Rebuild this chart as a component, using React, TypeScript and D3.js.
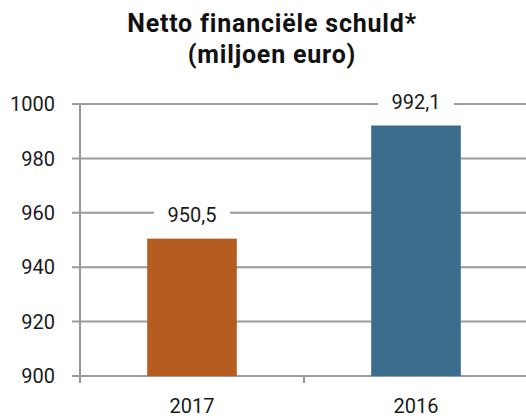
import React from "react";
import * as d3 from "d3";

const categories = ["2017", "2016"];
const values = [950.5, 992.1];
const valueLabels = ["950,5", "992,1"];
const barColors = ["#B55D20", "#3D6D8C"];
const yTicks = [900, 920, 940, 960, 980, 1000];
const titleLines = ["Netto financiële schuld*", "(miljoen euro)"];

const W = 526;
const H = 418;
const left = 80;
const right = 528;
const top = 104;
const bottom = 376;

export default function App() {
  const x = d3.scaleBand().domain(categories).range([left, right]).paddingInner(0.6).paddingOuter(0.3);
  const y = d3.scaleLinear().domain([900, 1000]).range([bottom, top]);
  const font = "Roboto, 'DejaVu Sans', sans-serif";
  const grid = "#9a9a9a";
  const step = (right - left) / categories.length;
  return (
    <svg width={W} height={H} style={{ position: "absolute", left: 0, top: 0 }} fontFamily={font}>
      <rect width={W} height={H} fill="#fff" />
      {titleLines.map((t, i) => (
        <text key={t} x={272} y={32 + i * 31} textAnchor="middle" fontSize={25} fontWeight="bold" fill="#111" letterSpacing={0.8}>
          {t}
        </text>
      ))}
      {yTicks.map((t) => (
        <g key={t}>
          <line x1={left - 8} x2={W} y1={y(t)} y2={y(t)} stroke={grid} strokeWidth={2} />
          <text x={left - 25} y={y(t)} dy="0.36em" textAnchor="end" fontSize={20} fill="#1a1a1a">
            {t}
          </text>
        </g>
      ))}
      <line x1={left} x2={left} y1={top} y2={bottom + 7} stroke={grid} strokeWidth={2} />
      {categories.map((c, i) => (
        <line key={"t" + c} x1={left + step * (i + 1)} x2={left + step * (i + 1)} y1={bottom} y2={bottom + 7} stroke={grid} strokeWidth={2} />
      ))}
      {categories.map((c, i) => {
        const bx = x(c)!;
        const bw = x.bandwidth();
        const cx = bx + bw / 2;
        const ly = y(values[i]) - 24;
        return (
          <g key={c}>
            <rect x={bx} y={y(values[i])} width={bw} height={bottom - y(values[i])} fill={barColors[i]} />
            <rect x={cx - 38} y={ly - 12} width={76} height={24} fill="#fff" />
            <text x={cx} y={ly} dy="0.36em" textAnchor="middle" fontSize={20} fill="#1a1a1a">
              {valueLabels[i]}
            </text>
            <text x={cx} y={413} textAnchor="middle" fontSize={20} fill="#1a1a1a">
              {c}
            </text>
          </g>
        );
      })}
    </svg>
  );
}
